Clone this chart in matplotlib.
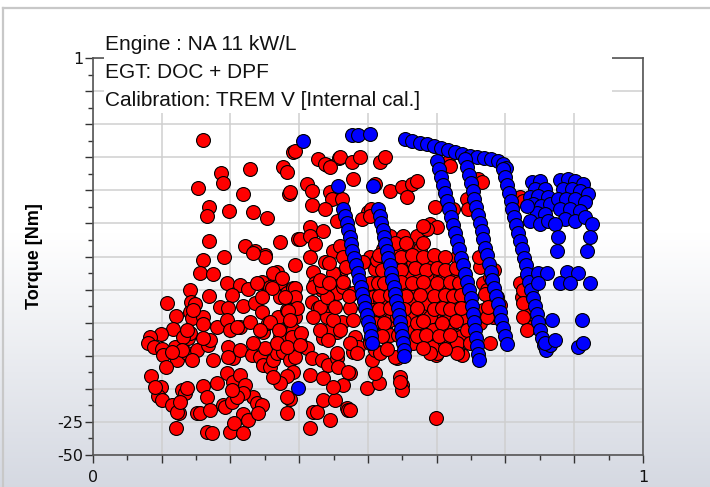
import numpy as np
import matplotlib
matplotlib.use("Agg")
import matplotlib.pyplot as plt
from matplotlib.patches import Rectangle
from matplotlib.lines import Line2D
from matplotlib.ticker import MultipleLocator, FixedLocator

# ---------------- data ----------------
title_lines = ["Engine : NA 11 kW/L", "EGT: DOC + DPF", "Calibration: TREM V [Internal cal.]"]
y_label = "Torque [Nm]"
x_tick_pos = [0, 1]
x_tick_labels = ["0", "1"]
y_tick_pos = [-50, -25, 0, 25, 50, 75, 100, 125, 150, 175, 200, 225, 250]
y_tick_labels = ["-50", "-25", "", "", "", "", "", "", "", "", "", "", "1"]

red_upper = [
(0.200,187.9),(0.364,178.8),(0.233,162.9),(0.236,155.3),(0.285,165.9),(0.345,167.4),(0.353,163.6),
(0.191,151.5),(0.273,147.0),(0.356,147.0),(0.211,137.1),(0.207,130.3),(0.247,134.1),(0.291,133.3),
(0.316,128.8),(0.211,111.4),(0.276,107.6),(0.295,103.8),(0.313,100.8),(0.340,110.6),(0.373,112.9),
(0.200,97.7),(0.238,100.0),(0.409,173.5),(0.425,168.9),(0.447,174.2),(0.367,179.5),(0.422,169.7),
(0.431,167.4),(0.449,175.0),(0.471,171.2),(0.485,175.0),(0.522,171.2),(0.531,175.0),(0.473,158.3),
(0.513,154.5),(0.389,154.5),(0.398,149.2),(0.358,148.5),(0.540,149.2),(0.562,152.3),(0.580,154.5),
(0.589,156.8),(0.571,144.7),(0.431,148.5),(0.435,143.2),(0.453,143.2),(0.398,138.6),(0.422,135.6),
(0.444,126.5),(0.500,133.3),(0.505,135.6),(0.622,137.1),(0.395,122.0),(0.418,118.9),(0.376,112.9),
(0.607,122.7),(0.613,124.2),(0.625,122.0),(0.489,128.0),(0.504,130.3),(0.645,171.2),(0.649,168.2),
(0.700,158.3),(0.707,156.1),(0.680,143.2),(0.682,135.6),(0.655,135.6),(0.776,144.7),(0.782,141.7),
(0.395,115.2),(0.404,109.1),(0.436,103.8),(0.449,107.6),(0.455,100.0),(0.395,100.0),(0.422,96.2),
(0.367,93.9),(0.313,100.0),(0.291,103.0),
]

red_left = [
(0.195,87.9),(0.218,86.4),(0.244,80.3),(0.267,78.8),(0.282,75.8),(0.176,75.0),(0.211,70.5),(0.253,71.2),
(0.135,65.2),(0.178,65.9),(0.185,64.4),(0.176,58.3),(0.231,62.1),(0.245,61.4),(0.273,62.9),(0.295,65.2),
(0.307,58.3),(0.151,55.3),(0.180,53.8),(0.200,54.5),(0.200,49.2),(0.225,47.0),(0.244,52.3),(0.249,44.7),
(0.267,47.0),(0.285,50.8),(0.309,43.2),(0.318,50.0),(0.336,54.5),(0.353,59.8),(0.364,67.4),(0.340,69.7),
(0.145,45.5),(0.124,41.7),(0.104,39.4),(0.100,34.8),(0.111,31.8),(0.125,30.3),(0.127,25.8),(0.149,31.8),
(0.153,22.0),(0.133,16.7),(0.173,38.6),(0.176,42.4),(0.164,39.4),(0.171,27.3),(0.189,29.5),(0.180,22.0),
(0.209,33.3),(0.213,37.1),(0.218,22.0),(0.245,31.8),(0.255,23.5),(0.245,24.2),(0.267,29.5),(0.289,25.8),
(0.304,24.2),(0.309,18.2),(0.322,16.7),(0.327,22.0),(0.335,27.3),(0.244,12.1),(0.255,5.3),(0.267,10.6),
(0.276,3.0),(0.291,-6.1),(0.273,-3.0),(0.345,28.0),(0.358,22.0),(0.364,12.9),(0.353,9.8),(0.340,4.5),
(0.327,9.1),(0.364,34.8),(0.105,9.8),(0.124,1.5),(0.118,-5.3),(0.125,-8.3),(0.144,-12.1),(0.156,-18.2),
(0.162,-0.8),(0.167,-3.0),(0.171,0.8),(0.200,2.3),(0.207,-6.1),(0.189,-18.2),(0.195,-18.2),(0.153,-17.4),
(0.213,-15.9),(0.225,4.5),(0.236,-12.1),(0.240,-13.6),(0.253,-9.8),(0.273,-18.9),(0.282,-23.5),(0.151,-29.5),
(0.207,-32.6),(0.216,-33.3),(0.249,-32.6),(0.256,-25.8),(0.273,-33.3),(0.298,-10.6),(0.307,-12.1),(0.300,-18.2),
(0.353,-18.2),(0.358,-7.6),(0.395,-29.5),(0.400,-17.4),(0.407,-17.4),(0.431,-23.5),(0.418,-8.3),(0.440,-8.3),
(0.462,-14.4),(0.464,-15.9),(0.455,3.0),(0.624,-22.0),(0.467,-15.9),(0.498,0.8),(0.520,4.5),(0.513,12.1),
(0.558,9.1),(0.562,3.0),(0.562,-0.8),(0.558,5.3),(0.467,12.1),(0.507,22.0),(0.473,28.0),(0.624,25.8),
(0.627,33.3),(0.616,31.8),(0.671,25.8),(0.553,23.5),
(0.171,44.7),(0.200,38.6),(0.162,29.5),(0.144,28.0),(0.113,1.5),(0.158,-9.8),(0.262,-6.1),(0.253,-0.8),
(0.353,-6.1),(0.307,81.1),(0.322,77.3),(0.340,81.1),(0.335,88.6),(0.353,72.7),(0.364,76.5),(0.358,50.8),
(0.364,44.7),(0.340,39.4),(0.371,31.8),
]

red_mid = [
(0.400,88.6),(0.404,80.3),(0.416,75.0),(0.398,65.9),(0.409,61.4),(0.425,54.5),(0.427,63.6),(0.444,72.7),
(0.449,86.4),(0.440,84.1),(0.455,77.3),(0.467,61.4),(0.453,50.8),(0.473,52.3),(0.444,43.2),(0.418,38.6),
(0.431,44.7),(0.376,34.8),(0.389,31.1),(0.398,23.5),(0.416,22.0),(0.427,18.2),(0.444,23.5),(0.445,16.7),
(0.464,12.9),(0.395,10.6),(0.418,8.3),(0.436,1.5),(0.476,39.4),(0.482,31.8),(0.473,72.7),(0.498,75.0),
(0.504,37.1),(0.513,29.5),(0.549,24.2),(0.625,27.3),(0.367,76.5),(0.367,69.7),(0.358,59.8),(0.367,54.5),
(0.362,39.4),(0.367,24.2),(0.327,87.9),(0.344,84.1),(0.298,80.3),(0.325,76.5),(0.307,69.7),(0.349,69.7),
(0.371,61.4),(0.355,59.1),(0.378,42.4),(0.358,52.3),(0.322,50.8),(0.338,44.7),(0.304,44.7),(0.262,47.0),
(0.313,31.1),(0.335,34.8),(0.353,31.8),(0.376,33.3),(0.291,34.8),(0.182,59.8),(0.413,62.1),(0.425,69.7),
(0.400,77.3),(0.416,77.3),(0.436,52.3),(0.449,44.7),(0.400,54.5),(0.413,44.7),(0.427,37.1),(0.413,82.6),
(0.436,87.9),(0.455,81.1),(0.460,92.0),(0.430,95.0),(0.465,70.0),(0.430,80.0),(0.440,62.0),
]

red_dense = [
(0.504,100.0),(0.513,90.2),(0.504,80.3),(0.518,80.3),(0.509,69.7),(0.522,67.4),(0.509,59.8),(0.527,58.3),
(0.513,50.0),(0.531,47.0),(0.540,52.3),(0.540,40.9),(0.571,44.7),(0.576,54.5),(0.589,65.2),(0.585,80.3),
(0.571,80.3),(0.573,90.2),(0.589,97.7),(0.613,97.7),(0.631,90.2),(0.644,80.3),(0.618,80.3),(0.600,72.7),
(0.625,67.4),(0.644,62.1),(0.607,57.6),(0.625,52.3),(0.640,47.0),(0.613,44.7),(0.598,40.9),(0.625,34.8),
(0.616,31.8),(0.662,100.0),(0.662,29.5),(0.655,42.4),(0.553,97.7),(0.544,86.4),(0.545,103.0),(0.516,97.7),
(0.655,87.9),(0.649,72.7),(0.662,62.1),(0.655,50.0),(0.667,39.4),(0.704,92.4),(0.709,80.3),(0.722,65.2),
(0.709,59.8),(0.727,54.5),(0.704,50.0),(0.735,69.7),(0.740,63.6),(0.725,82.6),(0.776,80.3),(0.780,69.7),
(0.795,57.6),(0.798,47.0),
(0.540,115.2),(0.564,115.2),(0.589,115.2),(0.607,120.5),(0.600,122.7),
(0.527,105.3),(0.553,105.3),(0.576,105.3),(0.595,105.3),
(0.491,95.5),(0.536,95.5),(0.564,95.5),(0.582,95.5),(0.600,95.5),(0.618,95.5),
(0.553,84.8),(0.576,84.8),(0.595,84.8),(0.613,84.8),(0.631,84.8),(0.722,84.8),
(0.535,75.0),(0.564,75.0),(0.589,75.0),(0.613,75.0),(0.636,75.0),(0.716,75.0),(0.782,75.0),
(0.553,65.2),(0.576,65.2),(0.607,65.2),(0.631,65.2),(0.662,65.2),(0.782,65.2),
(0.553,54.5),(0.582,54.5),(0.613,54.5),(0.644,54.5),(0.673,54.5),(0.716,54.5),(0.782,54.5),
(0.576,44.7),(0.595,44.7),(0.618,44.7),(0.644,44.7),(0.680,44.7),(0.789,44.7),
(0.467,34.8),(0.504,34.8),(0.582,34.8),(0.644,34.8),(0.662,34.8),(0.685,34.8),(0.722,34.8),
(0.444,27.3),(0.480,27.3),(0.522,27.3),(0.613,27.3),(0.662,27.3),
]

red_dense_fill = [
(0.550,110.0),(0.570,110.0),(0.600,110.0),
(0.520,101.0),(0.560,100.0),(0.580,101.0),(0.600,100.0),(0.620,101.0),(0.640,100.0),
(0.525,90.0),(0.545,91.0),(0.560,90.0),(0.585,91.0),(0.605,90.0),(0.625,91.0),(0.640,90.0),(0.660,91.0),
(0.530,80.0),(0.560,81.0),(0.580,80.0),(0.600,81.0),(0.625,80.0),(0.650,81.0),(0.665,80.0),
(0.520,70.0),(0.540,71.0),(0.570,70.0),(0.595,71.0),(0.620,70.0),(0.640,71.0),(0.655,70.0),(0.670,71.0),
(0.520,60.0),(0.540,61.0),(0.565,60.0),(0.590,61.0),(0.620,60.0),(0.635,61.0),(0.650,60.0),(0.670,61.0),
(0.530,50.0),(0.565,51.0),(0.590,50.0),(0.600,51.0),(0.635,50.0),(0.660,51.0),
(0.525,40.0),(0.555,41.0),(0.590,40.0),(0.605,41.0),(0.630,40.0),(0.650,41.0),
(0.535,30.0),(0.600,31.0),(0.640,30.0),
(0.712,72.0),(0.718,62.0),(0.730,90.0),(0.702,100.0),
]

blue_points = [
# isolated points
(0.382,187.1),(0.471,191.7),(0.482,191.7),(0.504,192.4),(0.445,153.0),(0.509,153.0),(0.373,0.8),
# top band
(0.567,188.6),(0.580,187.1),(0.595,185.6),(0.607,184.9),(0.620,183.3),(0.633,181.8),(0.645,180.3),
(0.658,178.8),(0.671,177.3),(0.685,175.8),(0.698,175.0),(0.711,174.2),(0.724,173.5),(0.736,172.0),
(0.745,169.7),(0.751,166.7),
# streak 1
(0.4545,135.7),(0.458,130.4),(0.462,125.1),(0.4636,119.8),(0.4673,114.4),(0.469,109.2),(0.4709,103.8),
(0.4745,98.5),(0.478,93.2),(0.4818,87.9),(0.4836,82.6),(0.4873,77.3),(0.489,72.0),(0.4927,66.7),
(0.4945,61.4),(0.4982,56.1),(0.500,50.8),(0.5036,45.5),(0.5055,40.2),(0.5073,34.9),
# streak 2
(0.518,135.7),(0.5218,130.4),(0.5236,125.1),(0.5273,119.8),(0.529,114.4),(0.531,109.2),(0.5345,103.8),
(0.536,98.5),(0.540,93.2),(0.5418,87.9),(0.5436,82.6),(0.547,77.3),(0.549,72.0),(0.551,66.7),
(0.5545,61.4),(0.556,56.1),(0.558,50.8),(0.560,45.5),(0.5618,40.2),(0.5636,34.9),(0.5655,29.6),(0.5655,25.0),
# streak 3
(0.625,172.0),(0.629,165.9),(0.633,159.9),(0.636,153.8),(0.640,147.7),(0.644,141.7),(0.647,135.6),
(0.651,129.5),(0.655,123.5),(0.658,117.4),(0.662,111.4),(0.665,105.3),(0.669,99.2),(0.673,93.2),
(0.676,87.1),(0.680,81.1),(0.684,75.0),(0.687,68.9),(0.689,62.9),(0.691,56.8),(0.693,50.8),(0.695,44.7),
(0.696,38.6),(0.698,32.6),(0.700,26.5),(0.702,22.0),
# streak 4
(0.676,173.5),(0.680,167.4),(0.684,161.4),(0.687,155.3),(0.691,149.2),(0.693,143.2),(0.696,137.1),
(0.700,131.1),(0.704,125.0),(0.707,118.9),(0.709,112.9),(0.713,106.8),(0.716,100.8),(0.720,94.7),
(0.724,88.6),(0.725,82.6),(0.729,76.5),(0.733,70.5),(0.736,64.4),(0.740,58.3),(0.742,52.3),(0.745,46.2),
(0.749,40.2),(0.753,34.1),
# streak 5
(0.745,165.9),(0.749,159.9),(0.753,153.8),(0.756,147.7),(0.760,141.7),(0.762,135.6),(0.765,129.5),
(0.769,123.5),(0.773,117.4),(0.776,111.4),(0.780,105.3),(0.784,99.2),(0.787,93.2),(0.789,87.1),
(0.793,81.1),(0.796,75.0),(0.800,68.9),(0.804,62.9),(0.807,56.8),(0.809,50.8),(0.813,44.7),(0.816,38.6),
(0.820,33.3),(0.824,29.5),
# right clusters
(0.798,156.1),(0.813,156.8),(0.804,150.8),(0.822,150.8),(0.795,144.7),(0.809,145.5),(0.827,144.7),
(0.800,139.4),(0.815,137.9),(0.831,139.4),(0.807,132.6),(0.822,131.8),(0.795,126.5),(0.813,124.2),
(0.827,126.5),(0.789,137.9),
(0.849,157.6),(0.864,158.3),(0.876,156.8),(0.891,154.5),(0.855,150.8),(0.871,150.8),(0.885,149.2),
(0.900,147.0),(0.845,143.2),(0.860,143.2),(0.876,143.2),(0.895,140.9),(0.849,135.6),(0.867,135.6),
(0.885,134.1),(0.858,128.0),(0.876,126.5),(0.895,129.5),(0.907,124.2),(0.840,124.2),(0.904,114.4),
(0.845,114.4),(0.844,103.8),(0.898,103.8),(0.862,88.6),(0.882,87.9),(0.849,80.3),(0.867,80.3),
(0.904,80.3),(0.809,87.9),(0.825,87.9),(0.809,80.3),(0.835,52.3),(0.889,52.3),(0.831,33.3),(0.882,31.8),
(0.891,34.8),(0.822,34.8),(0.840,37.1),
]

red_points = red_upper + red_left + red_mid + red_dense + red_dense_fill
red_x = [p[0] for p in red_points]
red_y = [p[1] for p in red_points]
blue_x = [p[0] for p in blue_points]
blue_y = [p[1] for p in blue_points]

# ---------------- figure ----------------
W, H = 710, 487
fig = plt.figure(figsize=(W / 100, H / 100), dpi=100)

# background gradient
bg = fig.add_axes([0, 0, 1, 1], zorder=-10)
rows = np.linspace(0, 1, 400)[:, None]
t = np.clip((rows - 0.48) / 0.52, 0, 1)
top = np.array([1.0, 1.0, 1.0])
bot = np.array([0.835, 0.850, 0.885])
img = top[None, None, :] * (1 - t[..., None]) + bot[None, None, :] * t[..., None]
img = np.repeat(img, 2, axis=1)
bg.imshow(img, aspect="auto", extent=[0, 1, 1, 0])
bg.set_xlim(0, 1)
bg.set_ylim(1, 0)
bg.axis("off")

# frame border lines (top and left)
fig.add_artist(Line2D([3 / W, 1], [1 - 8 / H, 1 - 8 / H], color="#c8c8c8", lw=1.6, transform=fig.transFigure))
fig.add_artist(Line2D([3 / W, 3 / W], [0, 1 - 8 / H], color="#c8c8c8", lw=1.6, transform=fig.transFigure))

ax = fig.add_axes([93 / W, 1 - 455 / H, 550 / W, 397 / H])
ax.set_facecolor("none")
ax.set_xlim(0, 1)
ax.set_ylim(-50, 250)

ax.scatter(red_x, red_y, s=100, c="#ff0000", edgecolors="black", linewidths=0.8, zorder=3)
ax.scatter(blue_x, blue_y, s=100, c="#0000ff", edgecolors="black", linewidths=0.8, zorder=4)

# ticks
ax.xaxis.set_minor_locator(MultipleLocator(0.0625))
ax.yaxis.set_major_locator(FixedLocator(y_tick_pos))
ax.yaxis.set_minor_locator(MultipleLocator(12.5))
ax.set_yticklabels(y_tick_labels)
xl = ["" for _ in np.arange(0, 1.0001, 0.125)]
xl[0] = x_tick_labels[0]
xl[-1] = x_tick_labels[1]
ax.set_xticks(np.arange(0, 1.0001, 0.125))
ax.set_xticklabels(xl)
ax.tick_params(axis="both", which="major", length=6, width=1.0, color="#333333",
               labelsize=11.5, labelcolor="#111111")
ax.tick_params(axis="both", which="minor", length=3.5, width=1.0, color="#333333")
ax.tick_params(axis="x", which="major", pad=5)
ax.tick_params(axis="y", which="major", pad=1)

ax.grid(True, which="major", color="#cfcfcf", lw=1.1, zorder=0)
ax.set_axisbelow(True)
for sp in ax.spines.values():
    sp.set_color("#555555")
    sp.set_linewidth(1.2)

ax.set_ylabel(y_label, fontsize=13, fontweight="bold",
              family=["Liberation Sans", "DejaVu Sans"], labelpad=10)

# white title box covering the upper part of the plot
fig.add_artist(Rectangle((104 / W, 1 - 113 / H), (612 - 104) / W, (113 - 18) / H,
                         transform=fig.transFigure, facecolor="white", edgecolor="none", zorder=5))
for i, line in enumerate(title_lines):
    fig.text(105 / W, 1 - (45 + 28 * i) / H, line, fontsize=15, va="center", ha="left",
             family=["Liberation Sans", "DejaVu Sans"], color="#111111", zorder=6)

fig.savefig("out.png", dpi=100)
